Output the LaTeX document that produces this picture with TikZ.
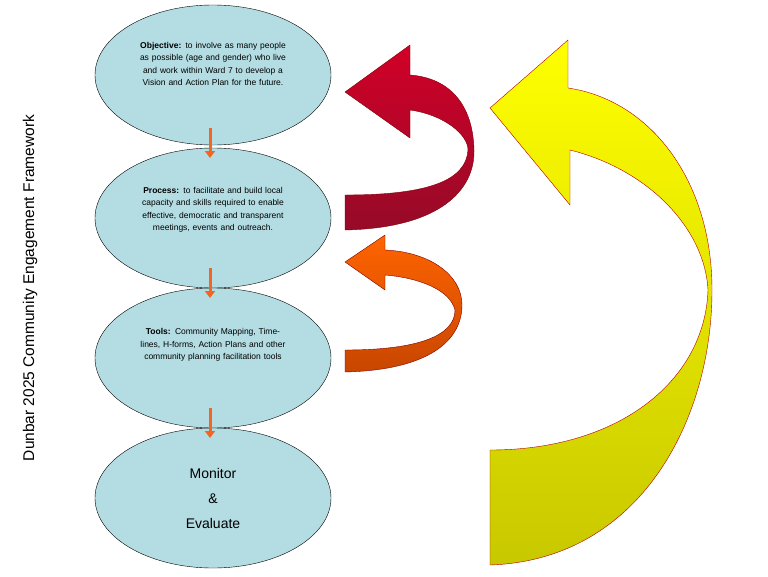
\documentclass[tikz,border=0pt]{standalone}
\usepackage{fontspec}
\setmainfont{Liberation Sans}
\usetikzlibrary{shapes.geometric,arrows.meta}
\definecolor{stageBlue}{HTML}{B4DDE3}
\definecolor{stepOrange}{HTML}{F26522}
\begin{document}
\begin{tikzpicture}[x=1pt,y=-1pt,
        every node/.style={font=\fontsize{8.5}{12.5}\selectfont},
        stageStyle/.style={ellipse,draw=black,fill=stageBlue,minimum width=236pt,minimum height=140pt,inner sep=0pt},
        stageText/.style={align=center,text width=150pt},
        stepArrow/.style={draw=stepOrange,line width=3pt,-{Triangle[length=7pt,width=10pt]}},
        loopArrow/.style={draw=#1!60!black,line width=0.4pt}]
    \useasboundingbox (0,0) rectangle (768,576);
    \node[rotate=90,font=\fontsize{15.5}{18}\selectfont] (title) at (30,288) {Dunbar 2025 Community Engagement Framework};
    \node[stageStyle] (objective) at (213,75) {};
    \node[stageStyle] (process) at (213,218) {};
    \node[stageStyle] (tools) at (213,358) {};
    \node[stageStyle] (monitor) at (213,498) {};
    \node[stageText] at (213,64) {\textbf{Objective:} to involve as many people as possible (age and gender) who live and work within Ward 7 to develop a Vision and Action Plan for the future.};
    \node[stageText] at (213,210) {\textbf{Process:} to facilitate and build local capacity and skills required to enable effective, democratic and transparent\ \ meetings, events and outreach.};
    \node[stageText] at (213,345) {\textbf{Tools:} Community Mapping, Timelines, H-forms, Action Plans and other community planning facilitation tools};
    \node[align=center,font=\fontsize{14}{25}\selectfont] at (213,498) {Monitor\\\&\\Evaluate};
    % short arrows between the stages
    \coordinate (s1) at (210,128); \coordinate (e1) at (210,158);
    \coordinate (s2) at (210,268); \coordinate (e2) at (210,298);
    \coordinate (s3) at (210,408); \coordinate (e3) at (210,438);
    \foreach \from/\to in {s1/e1,s2/e2,s3/e3}
        \draw[stepArrow] (\from) -- (\to);
    % curved feedback arrows
    \shade[top color=yellow,bottom color={rgb,255:red,200;green,200;blue,0},draw=red!70!black,line width=0.4pt]
        (490,565) .. controls (640,560) and (712,420) .. (712,290)
        .. controls (712,180) and (650,100) .. (568,88)
        -- (568,40) -- (490,108) -- (570,205) -- (570,150)
        .. controls (650,170) and (705,230) .. (708,290)
        .. controls (705,380) and (620,450) .. (490,450) -- cycle;
    \shade[top color={rgb,255:red,210;green,0;blue,40},bottom color={rgb,255:red,150;green,10;blue,40},draw=red!50!black,line width=0.4pt]
        (345,230) .. controls (440,228) and (475,190) .. (474,150)
        .. controls (473,105) and (450,78) .. (410,75)
        -- (410,45) -- (345,92) -- (410,138) -- (410,110)
        .. controls (445,115) and (468,135) .. (468,150)
        .. controls (466,180) and (430,195) .. (345,195) -- cycle;
    \shade[top color={rgb,255:red,255;green,100;blue,0},bottom color={rgb,255:red,200;green,70;blue,0},draw=red!50!black,line width=0.4pt]
        (345,372) .. controls (430,370) and (462,340) .. (462,305)
        .. controls (462,275) and (430,252) .. (385,250)
        -- (385,235) -- (345,262) -- (385,290) -- (385,275)
        .. controls (420,278) and (450,290) .. (455,310)
        .. controls (455,335) and (420,350) .. (345,350) -- cycle;
\end{tikzpicture}
\end{document}
